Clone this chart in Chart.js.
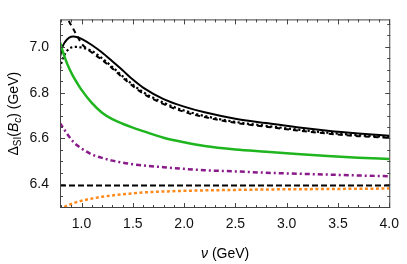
<!DOCTYPE html>
<html lang="en">
<head>
    <meta charset="UTF-8">
    <title>Delta SI (Bc) vs nu</title>
    <script src="https://cdn.jsdelivr.net/npm/chart.js@4.4.0/dist/chart.umd.min.js"></script>
    <style>
        html, body { margin: 0; padding: 0; background: #fff; }
        #wrap { width: 407px; height: 264px; }
    </style>
</head>
<body>
    <div id="wrap">
        <canvas id="chart" width="407" height="264"></canvas>
    </div>

    <script>
        // scale nu (GeV)
        const nu = [0.79, 0.81, 0.84, 0.88, 0.92, 0.96, 1.0, 1.1, 1.2, 1.3, 1.4, 1.5, 1.6, 1.8, 2.0, 2.2, 2.5, 2.8, 3.1, 3.4, 3.7, 4.0];

        // curves, Delta_SI(Bc) in GeV
        const blackSolid  = [6.955, 6.995, 7.022, 7.040, 7.045, 7.042, 7.035, 7.008, 6.975, 6.937, 6.898, 6.857, 6.822, 6.772, 6.739, 6.714, 6.686, 6.667, 6.649, 6.634, 6.622, 6.612];
        const blackDotted = [6.905, 6.940, 6.970, 6.992, 6.999, 7.000, 6.997, 6.982, 6.950, 6.912, 6.872, 6.835, 6.802, 6.756, 6.722, 6.698, 6.672, 6.655, 6.639, 6.625, 6.614, 6.606];
        const blackDashed = [null, null, 7.150, 7.110, 7.078, 7.045, 7.015, 6.975, 6.943, 6.906, 6.866, 6.829, 6.796, 6.750, 6.716, 6.693, 6.668, 6.651, 6.635, 6.621, 6.610, 6.602];
        const green       = [7.020, 6.990, 6.950, 6.905, 6.870, 6.840, 6.812, 6.755, 6.712, 6.684, 6.664, 6.647, 6.632, 6.603, 6.583, 6.567, 6.552, 6.542, 6.532, 6.523, 6.516, 6.510];
        const purple      = [6.667, 6.653, 6.633, 6.607, 6.585, 6.569, 6.556, 6.530, 6.515, 6.503, 6.494, 6.487, 6.482, 6.474, 6.467, 6.461, 6.456, 6.450, 6.446, 6.442, 6.438, 6.435];
        const orange      = [6.285, 6.294, 6.302, 6.310, 6.317, 6.323, 6.328, 6.337, 6.345, 6.351, 6.356, 6.360, 6.364, 6.368, 6.371, 6.373, 6.375, 6.377, 6.378, 6.379, 6.380, 6.381];

        // horizontal reference line
        const refNu = [0.79, 4.01];
        const refLine = [6.394, 6.394];

        // axis ticks
        const xMajor = [1.0, 1.5, 2.0, 2.5, 3.0, 3.5, 4.0];
        const yMajor = [6.4, 6.6, 6.8, 7.0];

        const FONT = "'Liberation Sans', Arial, sans-serif";

        function pts(xs, ys) {
            return xs.map((x, i) => ({ x: x, y: ys[i] }));
        }

        function series(ys, color, width, dash) {
            return {
                data: pts(nu, ys),
                borderColor: color,
                borderWidth: width,
                borderDash: dash,
                pointRadius: 0,
                fill: false,
                cubicInterpolationMode: 'monotone',
                spanGaps: false,
                clip: 0
            };
        }

        // frame with inward ticks (Mathematica style) and axis titles
        const framePlugin = {
            id: 'frame',
            afterDraw(chart) {
                const ctx = chart.ctx;
                const a = chart.chartArea;
                const xs = chart.scales.x, ys = chart.scales.y;
                ctx.save();
                ctx.strokeStyle = '#444';
                ctx.lineWidth = 1;
                ctx.strokeRect(a.left + 0.5, a.top + 0.5, a.right - a.left - 1, a.bottom - a.top - 1);

                ctx.beginPath();
                for (let i = 8; i <= 40; i++) {
                    const v = i / 10;
                    const len = (i % 5 === 0) ? 5 : 3;
                    const px = Math.round(xs.getPixelForValue(v)) + 0.5;
                    ctx.moveTo(px, a.bottom); ctx.lineTo(px, a.bottom - len);
                    ctx.moveTo(px, a.top); ctx.lineTo(px, a.top + len);
                }
                for (let i = 126; i <= 142; i++) {
                    const v = i / 20;
                    const len = (i % 4 === 0) ? 5 : 3;
                    const py = Math.round(ys.getPixelForValue(v)) + 0.5;
                    ctx.moveTo(a.left, py); ctx.lineTo(a.left + len, py);
                    ctx.moveTo(a.right, py); ctx.lineTo(a.right - len, py);
                }
                ctx.stroke();

                // x title
                ctx.fillStyle = '#000';
                ctx.textBaseline = 'alphabetic';
                const cx = (a.left + a.right) / 2;
                const runsX = [
                    { t: 'ν', f: 'italic 14px ' + FONT, dy: 0 },
                    { t: ' (GeV)', f: '14px ' + FONT, dy: 0 }
                ];
                drawRuns(ctx, runsX, cx, 258);

                // y title, rotated
                ctx.translate(18, (a.top + a.bottom) / 2);
                ctx.rotate(-Math.PI / 2);
                const runsY = [
                    { t: 'Δ', f: '14px ' + FONT, dy: 0 },
                    { t: 'SI', f: '10px ' + FONT, dy: 3 },
                    { t: '(', f: '14px ' + FONT, dy: 0 },
                    { t: 'B', f: 'italic 14px ' + FONT, dy: 0 },
                    { t: 'c', f: 'italic 10px ' + FONT, dy: 3 },
                    { t: ')', f: '14px ' + FONT, dy: 0 },
                    { t: ' (GeV)', f: '14px ' + FONT, dy: 0 }
                ];
                drawRuns(ctx, runsY, 0, 0);
                ctx.restore();
            }
        };

        function drawRuns(ctx, runs, cx, y) {
            let total = 0;
            runs.forEach(r => { ctx.font = r.f; total += ctx.measureText(r.t).width; });
            let x = cx - total / 2;
            runs.forEach(r => {
                ctx.font = r.f;
                ctx.fillText(r.t, x, y + r.dy);
                x += ctx.measureText(r.t).width;
            });
        }

        new Chart(document.getElementById('chart'), {
            type: 'line',
            data: {
                datasets: [
                    series(orange, '#ff8a1c', 2.5, [3, 2.5]),
                    {
                        data: pts(refNu, refLine),
                        borderColor: '#000',
                        borderWidth: 2,
                        borderDash: [6, 3],
                        pointRadius: 0,
                        fill: false,
                        clip: 0
                    },
                    series(purple, '#8a1a8a', 2.5, [5, 3, 2, 3]),
                    series(green, '#1fb51f', 2.5, []),
                    series(blackDashed, '#000', 2, [5, 4]),
                    series(blackDotted, '#000', 2.2, [2.2, 2.5]),
                    series(blackSolid, '#000', 2, [])
                ]
            },
            options: {
                responsive: false,
                animation: false,
                devicePixelRatio: 1,
                layout: { padding: { top: 2, right: 13, left: 0, bottom: 0 } },
                plugins: {
                    legend: { display: false },
                    tooltip: { enabled: false }
                },
                scales: {
                    x: {
                        type: 'linear',
                        min: 0.79,
                        max: 4.01,
                        grid: { display: false, drawTicks: false },
                        border: { display: false },
                        ticks: {
                            padding: 8,
                            color: '#111',
                            font: { family: FONT, size: 14 },
                            maxRotation: 0,
                            autoSkip: false,
                            callback: v => v.toFixed(1)
                        },
                        afterBuildTicks: s => { s.ticks = xMajor.map(v => ({ value: v })); },
                        afterFit: s => { s.height = 56; }
                    },
                    y: {
                        type: 'linear',
                        min: 6.296,
                        max: 7.12,
                        grid: { display: false, drawTicks: false },
                        border: { display: false },
                        ticks: {
                            padding: 11,
                            color: '#111',
                            font: { family: FONT, size: 14 },
                            autoSkip: false,
                            callback: v => v.toFixed(1)
                        },
                        afterBuildTicks: s => { s.ticks = yMajor.map(v => ({ value: v })); },
                        afterFit: s => { s.width = 60; }
                    }
                }
            },
            plugins: [framePlugin]
        });
    </script>
</body>
</html>
